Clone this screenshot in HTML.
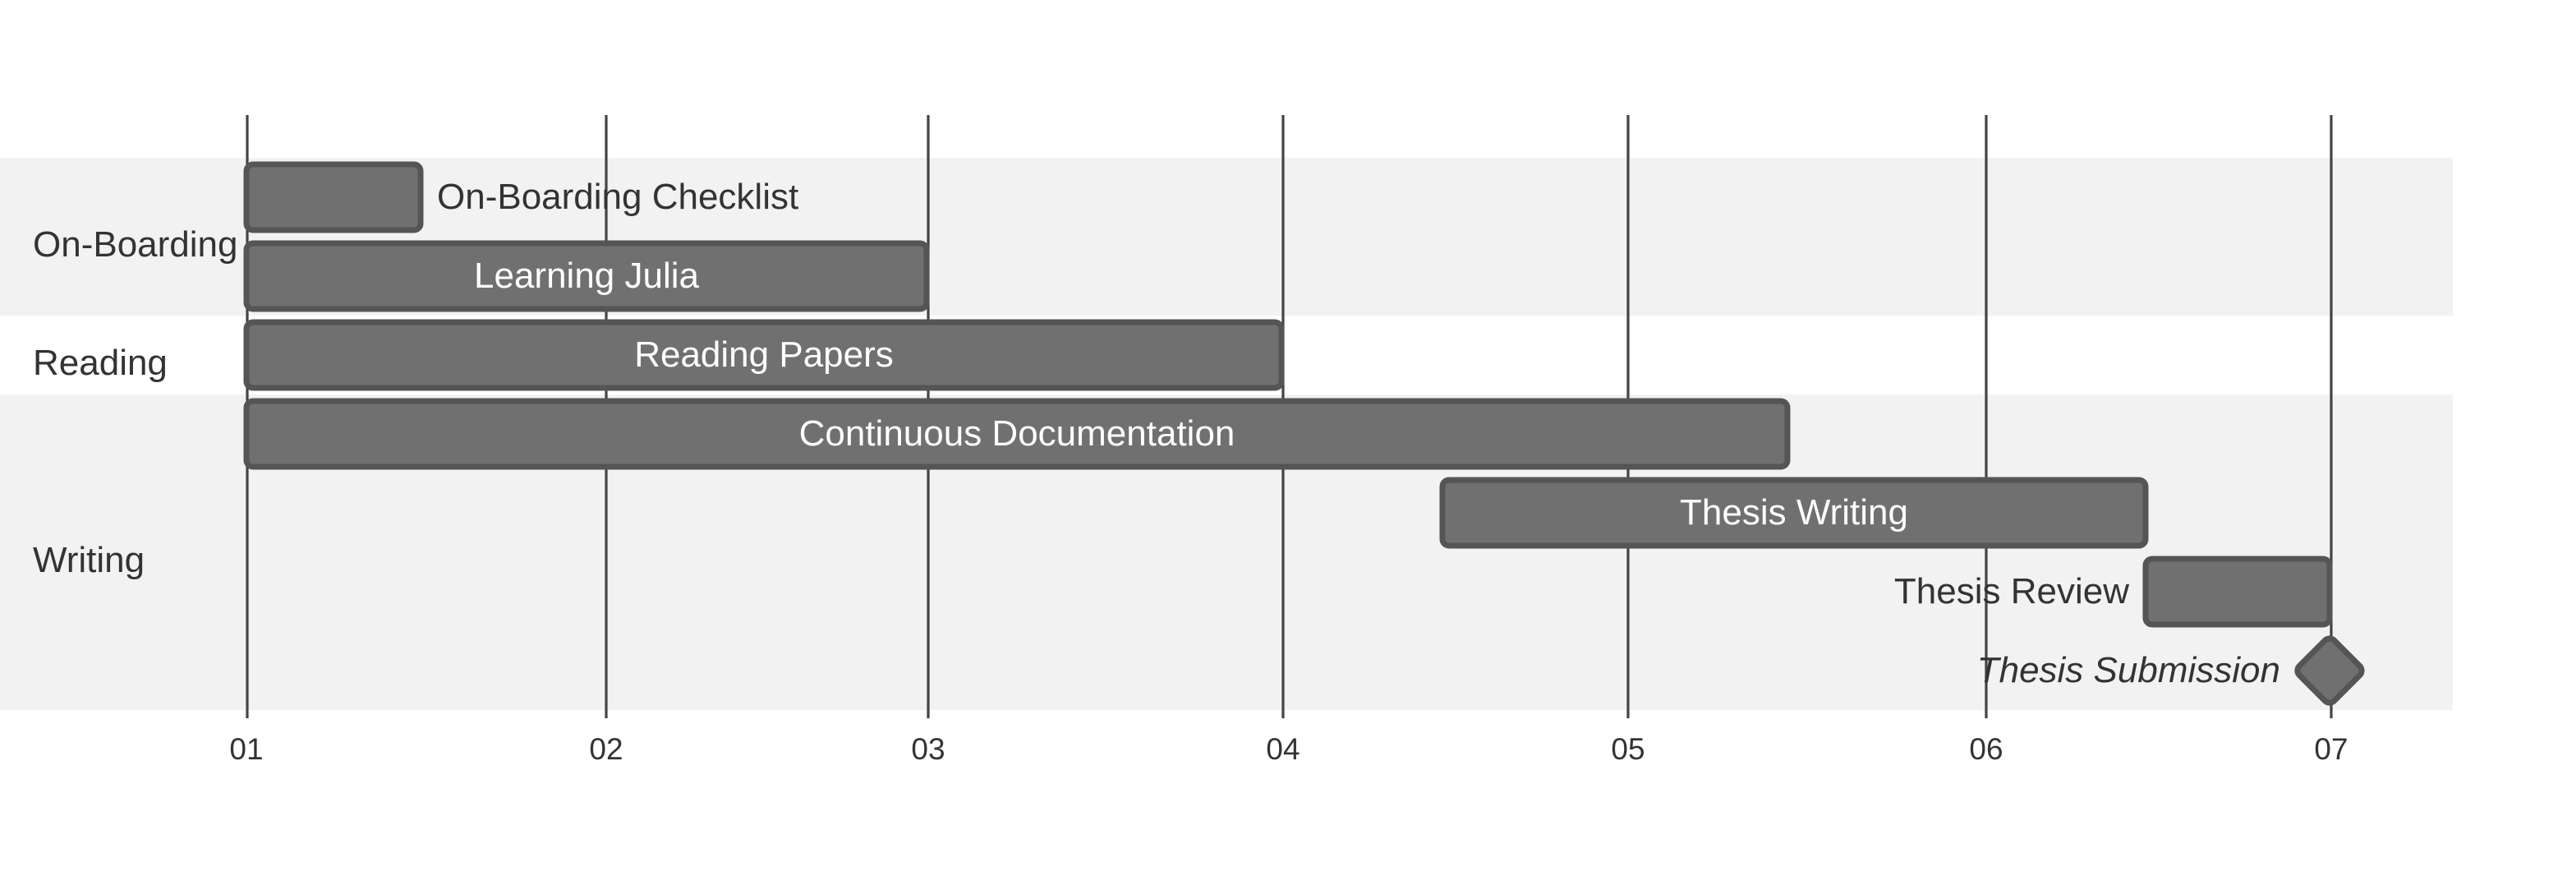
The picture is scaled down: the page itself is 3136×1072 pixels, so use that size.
<!DOCTYPE html>
<html><head><meta charset="utf-8"><style>html,body{margin:0;padding:0;background:#fff}svg{display:block}</style></head>
<body>
<svg width="3136" height="1072" viewBox="0 0 1568 536" xmlns="http://www.w3.org/2000/svg" font-family="Liberation Sans, Arial, sans-serif">
<rect x="0" y="0" width="1568" height="536" fill="#fff"/>
<rect x="0" y="96" width="1493" height="96" fill="#f2f2f2"/>
<rect x="0" y="240" width="1493" height="192" fill="#f2f2f2"/>
<g stroke="#444" stroke-width="1.6">
<line x1="150.5" y1="70" x2="150.5" y2="437"/>
<line x1="369" y1="70" x2="369" y2="437"/>
<line x1="565" y1="70" x2="565" y2="437"/>
<line x1="781" y1="70" x2="781" y2="437"/>
<line x1="991" y1="70" x2="991" y2="437"/>
<line x1="1209" y1="70" x2="1209" y2="437"/>
<line x1="1419" y1="70" x2="1419" y2="437"/>
</g>
<g font-size="18.5" fill="#333" text-anchor="middle">
<text x="150" y="462">01</text><text x="369" y="462">02</text><text x="565" y="462">03</text><text x="781" y="462">04</text><text x="991" y="462">05</text><text x="1209" y="462">06</text><text x="1419" y="462">07</text>
</g>
<g font-size="22" fill="#333">
<text x="20" y="156">On-Boarding</text>
<text x="20" y="228">Reading</text>
<text x="20" y="348">Writing</text>
</g>
<g fill="#707070" stroke="#555" stroke-width="3.5">
<rect x="150" y="100" width="106" height="40" rx="4"/>
<rect x="150" y="148" width="414" height="40" rx="4"/>
<rect x="150" y="196" width="630" height="40" rx="4"/>
<rect x="150" y="244" width="938" height="40" rx="4"/>
<rect x="878" y="292" width="428" height="40" rx="4"/>
<rect x="1306" y="340" width="112" height="40" rx="4"/>
<rect x="1403" y="393" width="30" height="30" rx="4" transform="rotate(45 1418 408)"/>
</g>
<g font-size="22" fill="#fff" text-anchor="middle">
<text x="357" y="175">Learning Julia</text>
<text x="465" y="223">Reading Papers</text>
<text x="619" y="271">Continuous Documentation</text>
<text x="1092" y="319">Thesis Writing</text>
</g>
<g font-size="22" fill="#333">
<text x="266" y="127">On-Boarding Checklist</text>
<text x="1296" y="367" text-anchor="end">Thesis Review</text>
<text x="1388" y="415" text-anchor="end" font-style="italic">Thesis Submission</text>
</g>
</svg>
</body></html>
